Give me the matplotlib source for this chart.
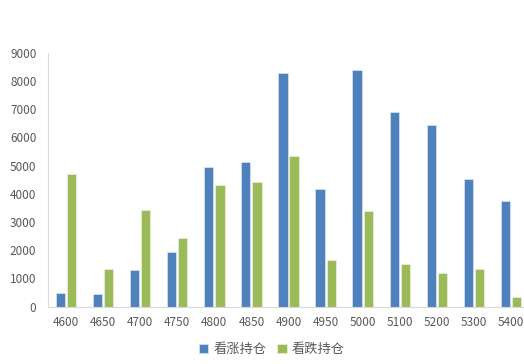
import numpy as np
import matplotlib.pyplot as plt

plt.rcParams['font.family'] = ['Noto Sans CJK SC', 'DejaVu Sans']

strikes = ['4600', '4650', '4700', '4750', '4800', '4850', '4900',
           '4950', '5000', '5100', '5200', '5300', '5400']
call_oi = [480, 440, 1300, 1940, 4950, 5140, 8290, 4160, 8390, 6890, 6450, 4510, 3740]
put_oi = [4710, 1340, 3430, 2450, 4310, 4420, 5330, 1640, 3400, 1500, 1210, 1340, 345]
series_names = ['看涨持仓', '看跌持仓']

blue = '#4F81BD'
green = '#9BBB59'
grey = '#595959'

fig = plt.figure(figsize=(5.24, 3.64), dpi=100)
# axes runs a little past the right edge, as in the cropped reference
ax = fig.add_axes([47.5 / 524, 1 - 306.7 / 364, 482 / 524, 254 / 364])

x = np.arange(len(strikes))
w = 0.25
ax.bar(x - 0.15, call_oi, w, color=blue, edgecolor='#DCE6F2', linewidth=0.5, label=series_names[0])
ax.bar(x + 0.15, put_oi, w, color=green, edgecolor='#EBF1DE', linewidth=0.5, label=series_names[1])

ax.set_xlim(-0.5, len(strikes) - 0.5)
ax.set_ylim(0, 9000)
ax.set_yticks(range(0, 9001, 1000))
ax.set_xticks(x)
ax.set_xticklabels(strikes)
ax.tick_params(axis='both', length=0, labelsize=8.5, colors=grey)
ax.tick_params(axis='y', pad=8)
ax.tick_params(axis='x', pad=7)

for s in ['top', 'right']:
    ax.spines[s].set_visible(False)
for s in ['left', 'bottom']:
    ax.spines[s].set_color('#D9D9D9')
    ax.spines[s].set_linewidth(0.8)

# legend sits at the very bottom (cut in the reference, kept whole here)
fig.legend(loc='lower center', bbox_to_anchor=(272 / 524, 0.0), ncol=2,
           frameon=False, fontsize=9.5, handlelength=0.7, handleheight=0.7,
           handletextpad=0.4, columnspacing=0.8, labelcolor=grey,
           borderpad=0.1)

fig.savefig('out.png', dpi=100)
